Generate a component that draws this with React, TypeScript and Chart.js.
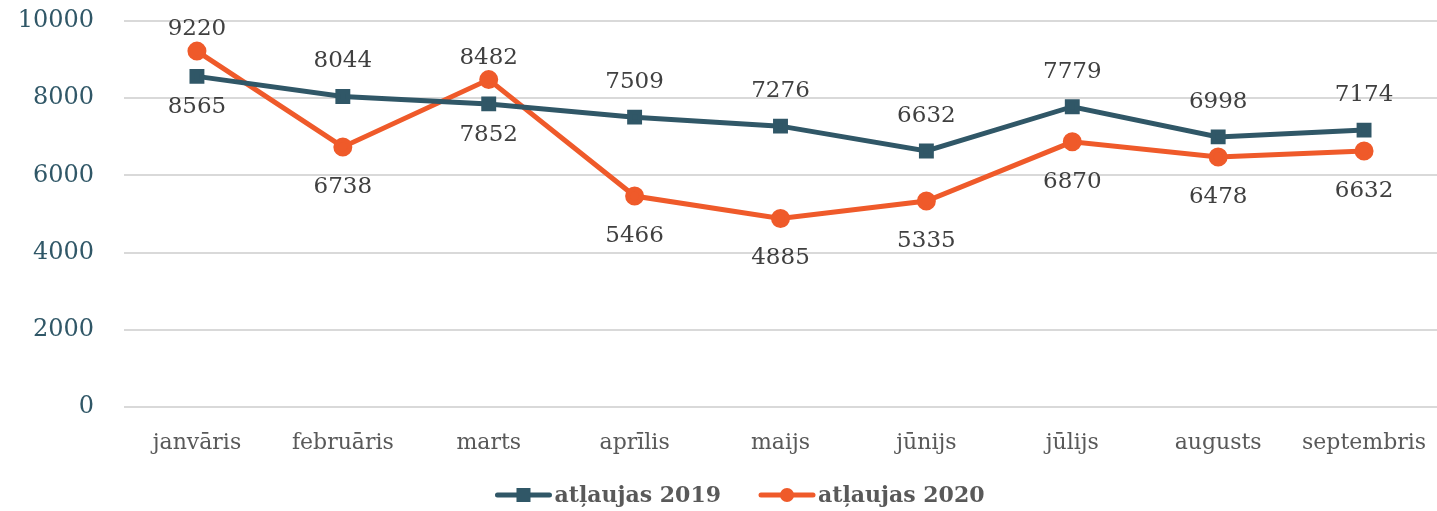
import React, { useEffect, useRef } from "react";
import { Chart, registerables } from "chart.js";

Chart.register(...registerables);

const categories = ["janvāris", "februāris", "marts", "aprīlis", "maijs", "jūnijs", "jūlijs", "augusts", "septembris"];
const values2019 = [8565, 8044, 7852, 7509, 7276, 6632, 7779, 6998, 7174];
const values2020 = [9220, 6738, 8482, 5466, 4885, 5335, 6870, 6478, 6632];
const labelPos2019 = ["below", "above", "below", "above", "above", "above", "above", "above", "above"];
const labelPos2020 = ["above", "below", "above", "below", "below", "below", "below", "below", "below"];
const seriesNames = ["atļaujas 2019", "atļaujas 2020"];
const yTicks = [0, 2000, 4000, 6000, 8000, 10000];

const TEAL = "#305767";
const ORANGE = "#ef5a2a";
const SLAB = "'DejaVu Serif', serif";

const dataLabelPlugin = {
  id: "dataLabels",
  afterDatasetsDraw(chart: any) {
    const ctx = chart.ctx;
    ctx.save();
    ctx.font = `23px ${SLAB}`;
    ctx.fillStyle = "#404040";
    ctx.textAlign = "center";
    ctx.textBaseline = "middle";
    chart.data.datasets.forEach((ds: any, di: number) => {
      const meta = chart.getDatasetMeta(di);
      const pos = ds.labelPos as string[];
      meta.data.forEach((pt: any, i: number) => {
        const y = pos[i] === "above" ? pt.y - ds.labelAbove : pt.y + ds.labelBelow;
        ctx.fillText(String(ds.data[i]), pt.x, y);
      });
    });
    ctx.restore();
  },
};

const legendPlugin = {
  id: "customLegend",
  afterDraw(chart: any) {
    const ctx = chart.ctx;
    ctx.save();
    ctx.font = `bold 22px ${SLAB}`;
    const lineLen = 56;
    const gap = 3;
    const between = 38;
    const items = chart.data.datasets.map((ds: any) => ({
      ds,
      w: lineLen + gap + ctx.measureText(ds.label).width,
    }));
    const total = items.reduce((s: number, it: any) => s + it.w, 0) + between * (items.length - 1);
    let x = 740 - total / 2;
    const y = 495;
    items.forEach((it: any) => {
      const ds = it.ds;
      ctx.strokeStyle = ds.borderColor;
      ctx.lineWidth = 5;
      ctx.lineCap = "round";
      ctx.beginPath();
      ctx.moveTo(x + 2, y);
      ctx.lineTo(x + lineLen - 2, y);
      ctx.stroke();
      ctx.fillStyle = ds.borderColor;
      const cx = x + lineLen / 2;
      if (ds.pointStyle === "rect") {
        ctx.fillRect(cx - 7, y - 7, 14, 14);
      } else {
        ctx.beginPath();
        ctx.arc(cx, y, 7, 0, Math.PI * 2);
        ctx.fill();
      }
      ctx.fillStyle = "#595959";
      ctx.textAlign = "left";
      ctx.textBaseline = "middle";
      ctx.fillText(ds.label, x + lineLen + gap, y + 1);
      x += it.w + between;
    });
    ctx.restore();
  },
};

export default function App() {
  const ref = useRef<HTMLCanvasElement>(null);
  useEffect(() => {
    if (!ref.current) return;
    const chart = new Chart(ref.current, {
      type: "line",
      data: {
        labels: categories,
        datasets: [
          {
            label: seriesNames[0],
            data: values2019,
            borderColor: TEAL,
            backgroundColor: TEAL,
            borderWidth: 5,
            pointStyle: "rect",
            pointRadius: 7,
            pointHoverRadius: 7,
            tension: 0,
            labelPos: labelPos2019,
            labelAbove: 35,
            labelBelow: 31,
          } as any,
          {
            label: seriesNames[1],
            data: values2020,
            borderColor: ORANGE,
            backgroundColor: ORANGE,
            borderWidth: 5,
            pointStyle: "circle",
            pointRadius: 7,
            pointHoverRadius: 7,
            tension: 0,
            labelPos: labelPos2020,
            labelAbove: 22,
            labelBelow: 40,
          } as any,
        ],
      },
      options: {
        animation: false,
        responsive: false,
        layout: { autoPadding: false, padding: { top: 21, right: -7, bottom: 50, left: 0 } },
        plugins: {
          legend: { display: false },
          tooltip: { enabled: false },
        },
        scales: {
          x: {
            offset: true,
            grid: { display: true, drawOnChartArea: false, drawTicks: true, tickLength: 22, color: "rgba(0,0,0,0)" },
            border: { display: false },
            ticks: {
              padding: 1,
              color: "#595959",
              font: { family: SLAB, size: 22 },
              maxRotation: 0,
              autoSkip: false,
            },
            afterFit: (s: any) => {
              s.height = 54;
              s.paddingLeft = 0;
              s.paddingRight = 0;
            },
          },
          y: {
            min: 0,
            max: 10000,
            afterBuildTicks: (s: any) => {
              s.ticks = yTicks.map((v) => ({ value: v }));
            },
            grid: { color: "#d9d9d9", lineWidth: 2, drawTicks: false },
            border: { display: false },
            ticks: {
              padding: 30,
              color: TEAL,
              font: { family: SLAB, size: 24 },
              callback: (v: any) => String(v),
            },
            afterFit: (s: any) => {
              s.width = 124;
              s.paddingTop = 0;
              s.paddingBottom = 0;
            },
          },
        },
      },
      plugins: [dataLabelPlugin, legendPlugin],
    });
    return () => chart.destroy();
  }, []);
  return (
    <div style={{ position: "fixed", left: 0, top: 0, width: 1437, height: 511, background: "#fff" }}>
      <canvas ref={ref} width={1437} height={511} style={{ display: "block", width: 1437, height: 511 }} />
    </div>
  );
}
